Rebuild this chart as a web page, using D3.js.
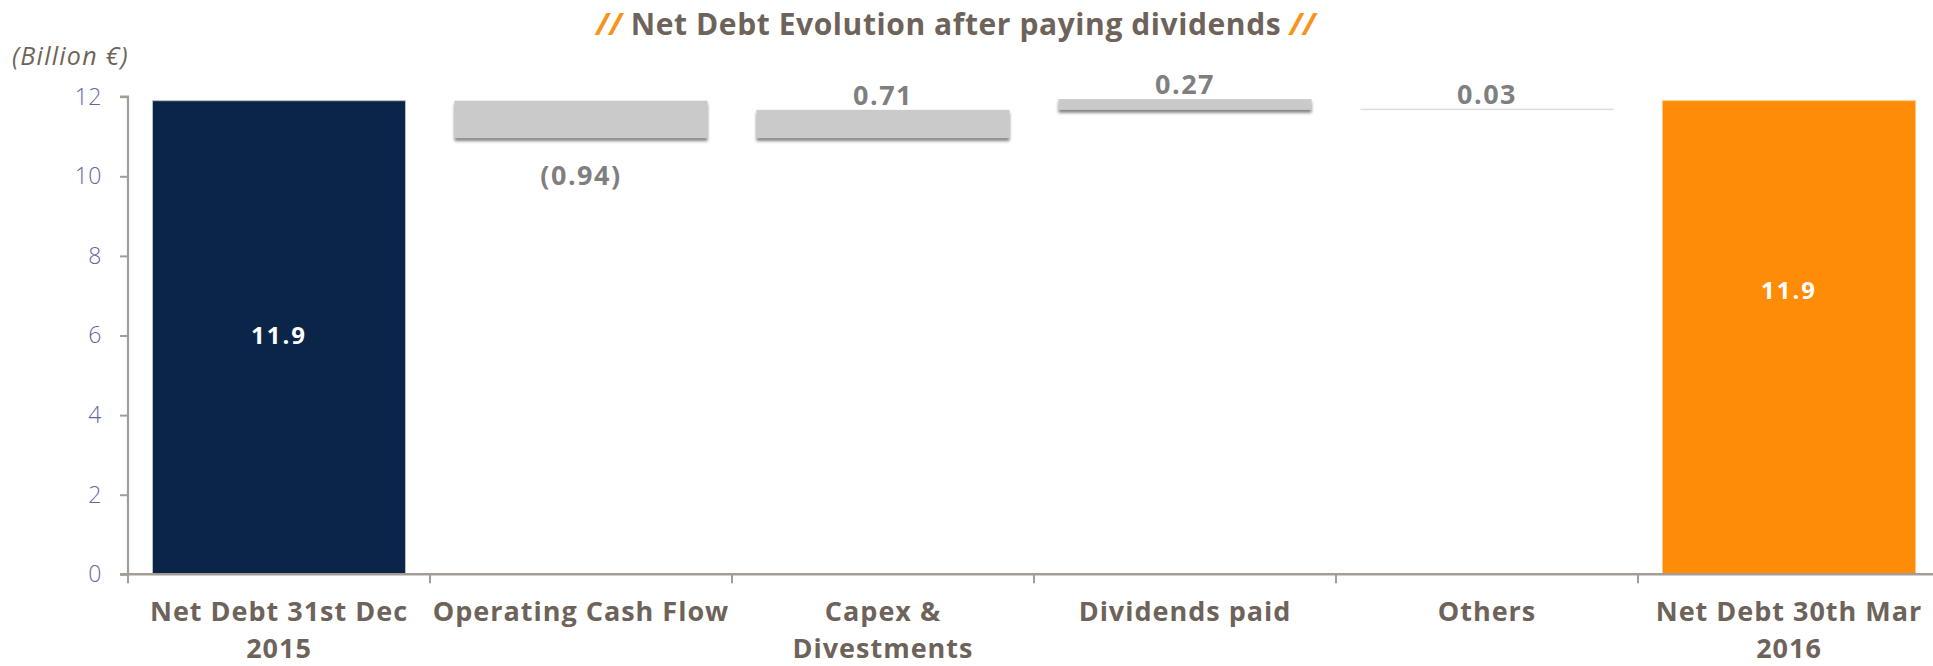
<!DOCTYPE html>
<html>
<head>
<meta charset="utf-8">
<script src="https://cdn.jsdelivr.net/npm/d3@7"></script>
<style>
  html, body { margin: 0; padding: 0; background: #ffffff; }
  svg { display: block; }
</style>
</head>
<body>
<svg id="chart" width="1933" height="666"></svg>
<script>
// Net debt bridge, billion euro
const categories = [
  ["Net Debt 31st Dec", "2015"],
  ["Operating Cash Flow"],
  ["Capex &", "Divestments"],
  ["Dividends paid"],
  ["Others"],
  ["Net Debt 30th Mar", "2016"]
];
const kinds       = ["total", "step", "step", "step", "step", "total"];
const values      = [11.9, -0.94, 0.71, 0.27, 0.03, 11.9];
const bases       = [0, 10.96, 10.96, 11.67, 11.67, 0];
const valueLabels = ["11.9", "(0.94)", "0.71", "0.27", "0.03", "11.9"];
const yTicks      = [0, 2, 4, 6, 8, 10, 12];

const W = 1933, H = 666;
const svg = d3.select("#chart");

const FONT = "'Open Sans', Roboto, sans-serif";
const brown = "#6e635a";
const orange = "#f7941d";

// spread a text's letters so that it spans the given width
function spreadTo(sel, width) {
  const node = sel.node();
  const n = node.textContent.length;
  const w = node.getComputedTextLength();
  const ls = (width - w) / n;
  sel.attr("letter-spacing", ls);
  return ls;
}

const x = d3.scaleBand()
  .domain(d3.range(categories.length))
  .range([128, 1940])
  .paddingInner(0.162)
  .paddingOuter(0.081);

const y = d3.scaleLinear().domain([0, 12]).range([574.3, 96.7]);

// drop shadow for the floating bars
const defs = svg.append("defs");
const f = defs.append("filter").attr("id", "shadow")
  .attr("x", "-5%").attr("y", "-50%").attr("width", "110%").attr("height", "250%");
f.append("feDropShadow").attr("dx", 0).attr("dy", 3).attr("stdDeviation", 1.6)
  .attr("flood-color", "#666666").attr("flood-opacity", 0.8);

// title
const title = svg.append("text")
  .attr("x", 956).attr("y", 35)
  .attr("text-anchor", "middle")
  .attr("font-family", FONT).attr("font-weight", 700).attr("font-size", 30)
  .attr("fill", brown);
title.append("tspan").attr("fill", orange).attr("font-style", "italic").text("//");
title.append("tspan").text(" Net Debt Evolution after paying dividends ");
title.append("tspan").attr("fill", orange).attr("font-style", "italic").text("//");
spreadTo(title, 720);

// unit label
const unit = svg.append("text")
  .attr("x", 12).attr("y", 65)
  .attr("font-family", FONT).attr("font-weight", 400).attr("font-style", "italic")
  .attr("font-size", 25).attr("fill", brown)
  .text("(Billion €)");
spreadTo(unit, 117);

// bars
const bars = svg.append("g");
categories.forEach((c, i) => {
  const bx = x(i), bw = x.bandwidth();
  if (kinds[i] === "total") {
    bars.append("rect")
      .attr("x", bx).attr("width", bw)
      .attr("y", y(values[i])).attr("height", y(0) - y(values[i]))
      .attr("fill", i === 0 ? "#0b2549" : "#ff8c06")
      .attr("stroke", i === 0 ? "#b9c0cc" : "#ffc98a").attr("stroke-width", 1);
  } else {
    const lo = bases[i];
    const hi = bases[i] + Math.abs(values[i]);
    const thin = (y(lo) - y(hi)) < 3;
    bars.append("rect")
      .attr("x", bx).attr("width", bw)
      .attr("y", y(hi)).attr("height", Math.max(y(lo) - y(hi), 1.5))
      .attr("fill", thin ? "#dcdcdc" : "#cacaca")
      .attr("filter", thin ? null : "url(#shadow)");
  }
});

// axes
const axisColor = "#a39d98";
const yAxis = svg.append("g")
  .attr("transform", "translate(128,0)")
  .call(d3.axisLeft(y).tickValues(yTicks).tickSize(8).tickPadding(18).tickFormat(d3.format("d")));
yAxis.select(".domain").attr("stroke", axisColor).attr("stroke-width", 2.2)
  .attr("d", `M-8,${y(12)}H0V${y(0)}`);
yAxis.selectAll(".tick line").attr("stroke", axisColor).attr("stroke-width", 2);
yAxis.selectAll(".tick text")
  .attr("font-family", FONT).attr("font-weight", 300).attr("font-size", 23)
  .attr("letter-spacing", 0.5)
  .attr("fill", "#66669f");

// x axis line and band-boundary ticks
const xAxisG = svg.append("g");
xAxisG.append("line")
  .attr("x1", 120).attr("x2", W)
  .attr("y1", y(0)).attr("y2", y(0))
  .attr("stroke", axisColor).attr("stroke-width", 2.4);
d3.range(categories.length).forEach(i => {
  const tx = x(i) - x.step() * x.paddingOuter();
  xAxisG.append("line")
    .attr("x1", tx).attr("x2", tx)
    .attr("y1", y(0)).attr("y2", y(0) + 9)
    .attr("stroke", axisColor).attr("stroke-width", 2);
});

// category labels
const catG = svg.append("g")
  .attr("font-family", FONT).attr("font-weight", 700).attr("font-size", 27)
  .attr("fill", brown).attr("text-anchor", "middle");
const catTexts = [];
categories.forEach((lines, i) => {
  const cx = x(i) + x.bandwidth() / 2;
  lines.forEach((l, k) => {
    catTexts.push(catG.append("text")
      .attr("x", cx).attr("y", k === 0 ? 621 : 658)
      .text(l));
  });
});
const catSpacing = spreadTo(catTexts[0], 258);
catTexts.forEach(t => t.attr("letter-spacing", catSpacing));

// value labels
const labelAnchor = [0.505, null, null, null, null, 0.60];
const valG = svg.append("g")
  .attr("font-family", FONT).attr("font-weight", 700).attr("text-anchor", "middle");
const stepTexts = [];
categories.forEach((c, i) => {
  const cx = x(i) + x.bandwidth() / 2;
  if (kinds[i] === "total") {
    const t = valG.append("text")
      .attr("x", cx).attr("y", y(values[i] * labelAnchor[i]))
      .attr("dy", "0.35em")
      .attr("font-size", 24)
      .attr("fill", "#ffffff")
      .text(valueLabels[i]);
    spreadTo(t, 56);
  } else {
    const yy = values[i] < 0 ? y(bases[i]) + 47 : y(bases[i] + values[i]) - 5;
    stepTexts.push(valG.append("text")
      .attr("x", cx).attr("y", yy)
      .attr("font-size", 27)
      .attr("fill", "#7f7f7f")
      .text(valueLabels[i]));
  }
});
const valSpacing = spreadTo(stepTexts[1], 60);
stepTexts.forEach(t => t.attr("letter-spacing", valSpacing));
</script>
</body>
</html>
